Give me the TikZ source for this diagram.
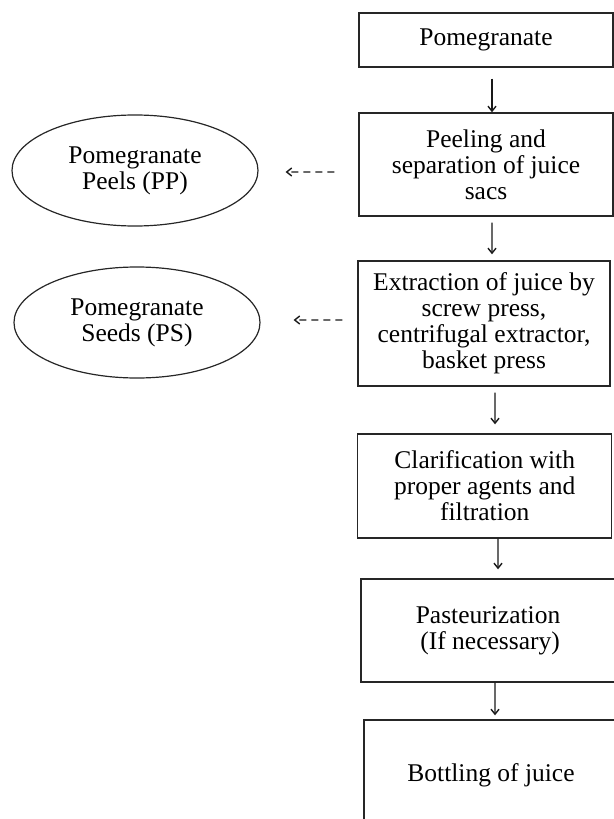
\documentclass[tikz,border=0pt]{standalone}
\usepackage{fontspec}
\setmainfont{Liberation Serif}
\usetikzlibrary{shapes.geometric,arrows.meta}
\begin{document}
\begin{tikzpicture}[x=1bp,y=-1bp,
  txt/.style={align=center,font=\fontsize{25.5bp}{26bp}\selectfont},
  box/.style={txt,draw=black!85,line width=1.4bp,minimum width=254bp,inner sep=0pt},
  oval/.style={txt,ellipse,draw=black!85,line width=1.2bp,minimum width=246bp,minimum height=111bp,inner sep=0pt},
  arr/.style={line width=1.4bp,draw=black!90,-{Straight Barb[length=5bp,width=8bp]}},
  darr/.style={arr,dash pattern=on 7bp off 5bp}]
\useasboundingbox (0,0) rectangle (614,819);
\node[box,minimum height=54bp] (b1) at (486,40) {Pomegranate};
\node[box,minimum height=103bp] (b2) at (486,164.5) {Peeling and\\separation of juice\\sacs};
\node[box,minimum width=252bp,minimum height=125bp] (b3) at (484,323.5) {Extraction of juice by\\screw press,\\centrifugal extractor,\\basket press};
\node[box,minimum height=104bp] (b4) at (484.7,486) {Clarification with\\proper agents and\\filtration};
\node[box,minimum height=103bp] (b5) at (488,630.5) {Pasteurization\\ \,(If necessary)};
\node[box,minimum height=110bp] (b6) at (491,775) {Bottling of juice};
\node[oval] (pp) at (135,170.5) {Pomegranate\\Peels (PP)};
\node[oval] (ps) at (137,322.5) {Pomegranate\\Seeds (PS)};
\draw[arr] ([xshift=6bp,yshift=-11bp]b1.south) -- ([xshift=6bp]b2.north);
\draw[arr] ([xshift=6bp,yshift=-6bp]b2.south) -- ([xshift=8bp,yshift=6bp]b3.north);
\draw[arr] ([xshift=11bp,yshift=-6bp]b3.south) -- ([xshift=10.3bp,yshift=9bp]b4.north);
\draw[arr] ([xshift=13.3bp]b4.south) -- ([xshift=10bp,yshift=9bp]b5.north);
\draw[arr] ([xshift=7bp]b5.south) -- ([xshift=4bp,yshift=4bp]b6.north);
\draw[darr] ([xshift=-24bp,yshift=-7.5bp]b2.west) -- ([xshift=27bp,yshift=-1.5bp]pp.east);
\draw[darr] ([xshift=-15bp,yshift=3.5bp]b3.west) -- ([xshift=33bp,yshift=2.5bp]ps.east);
\end{tikzpicture}
\end{document}
